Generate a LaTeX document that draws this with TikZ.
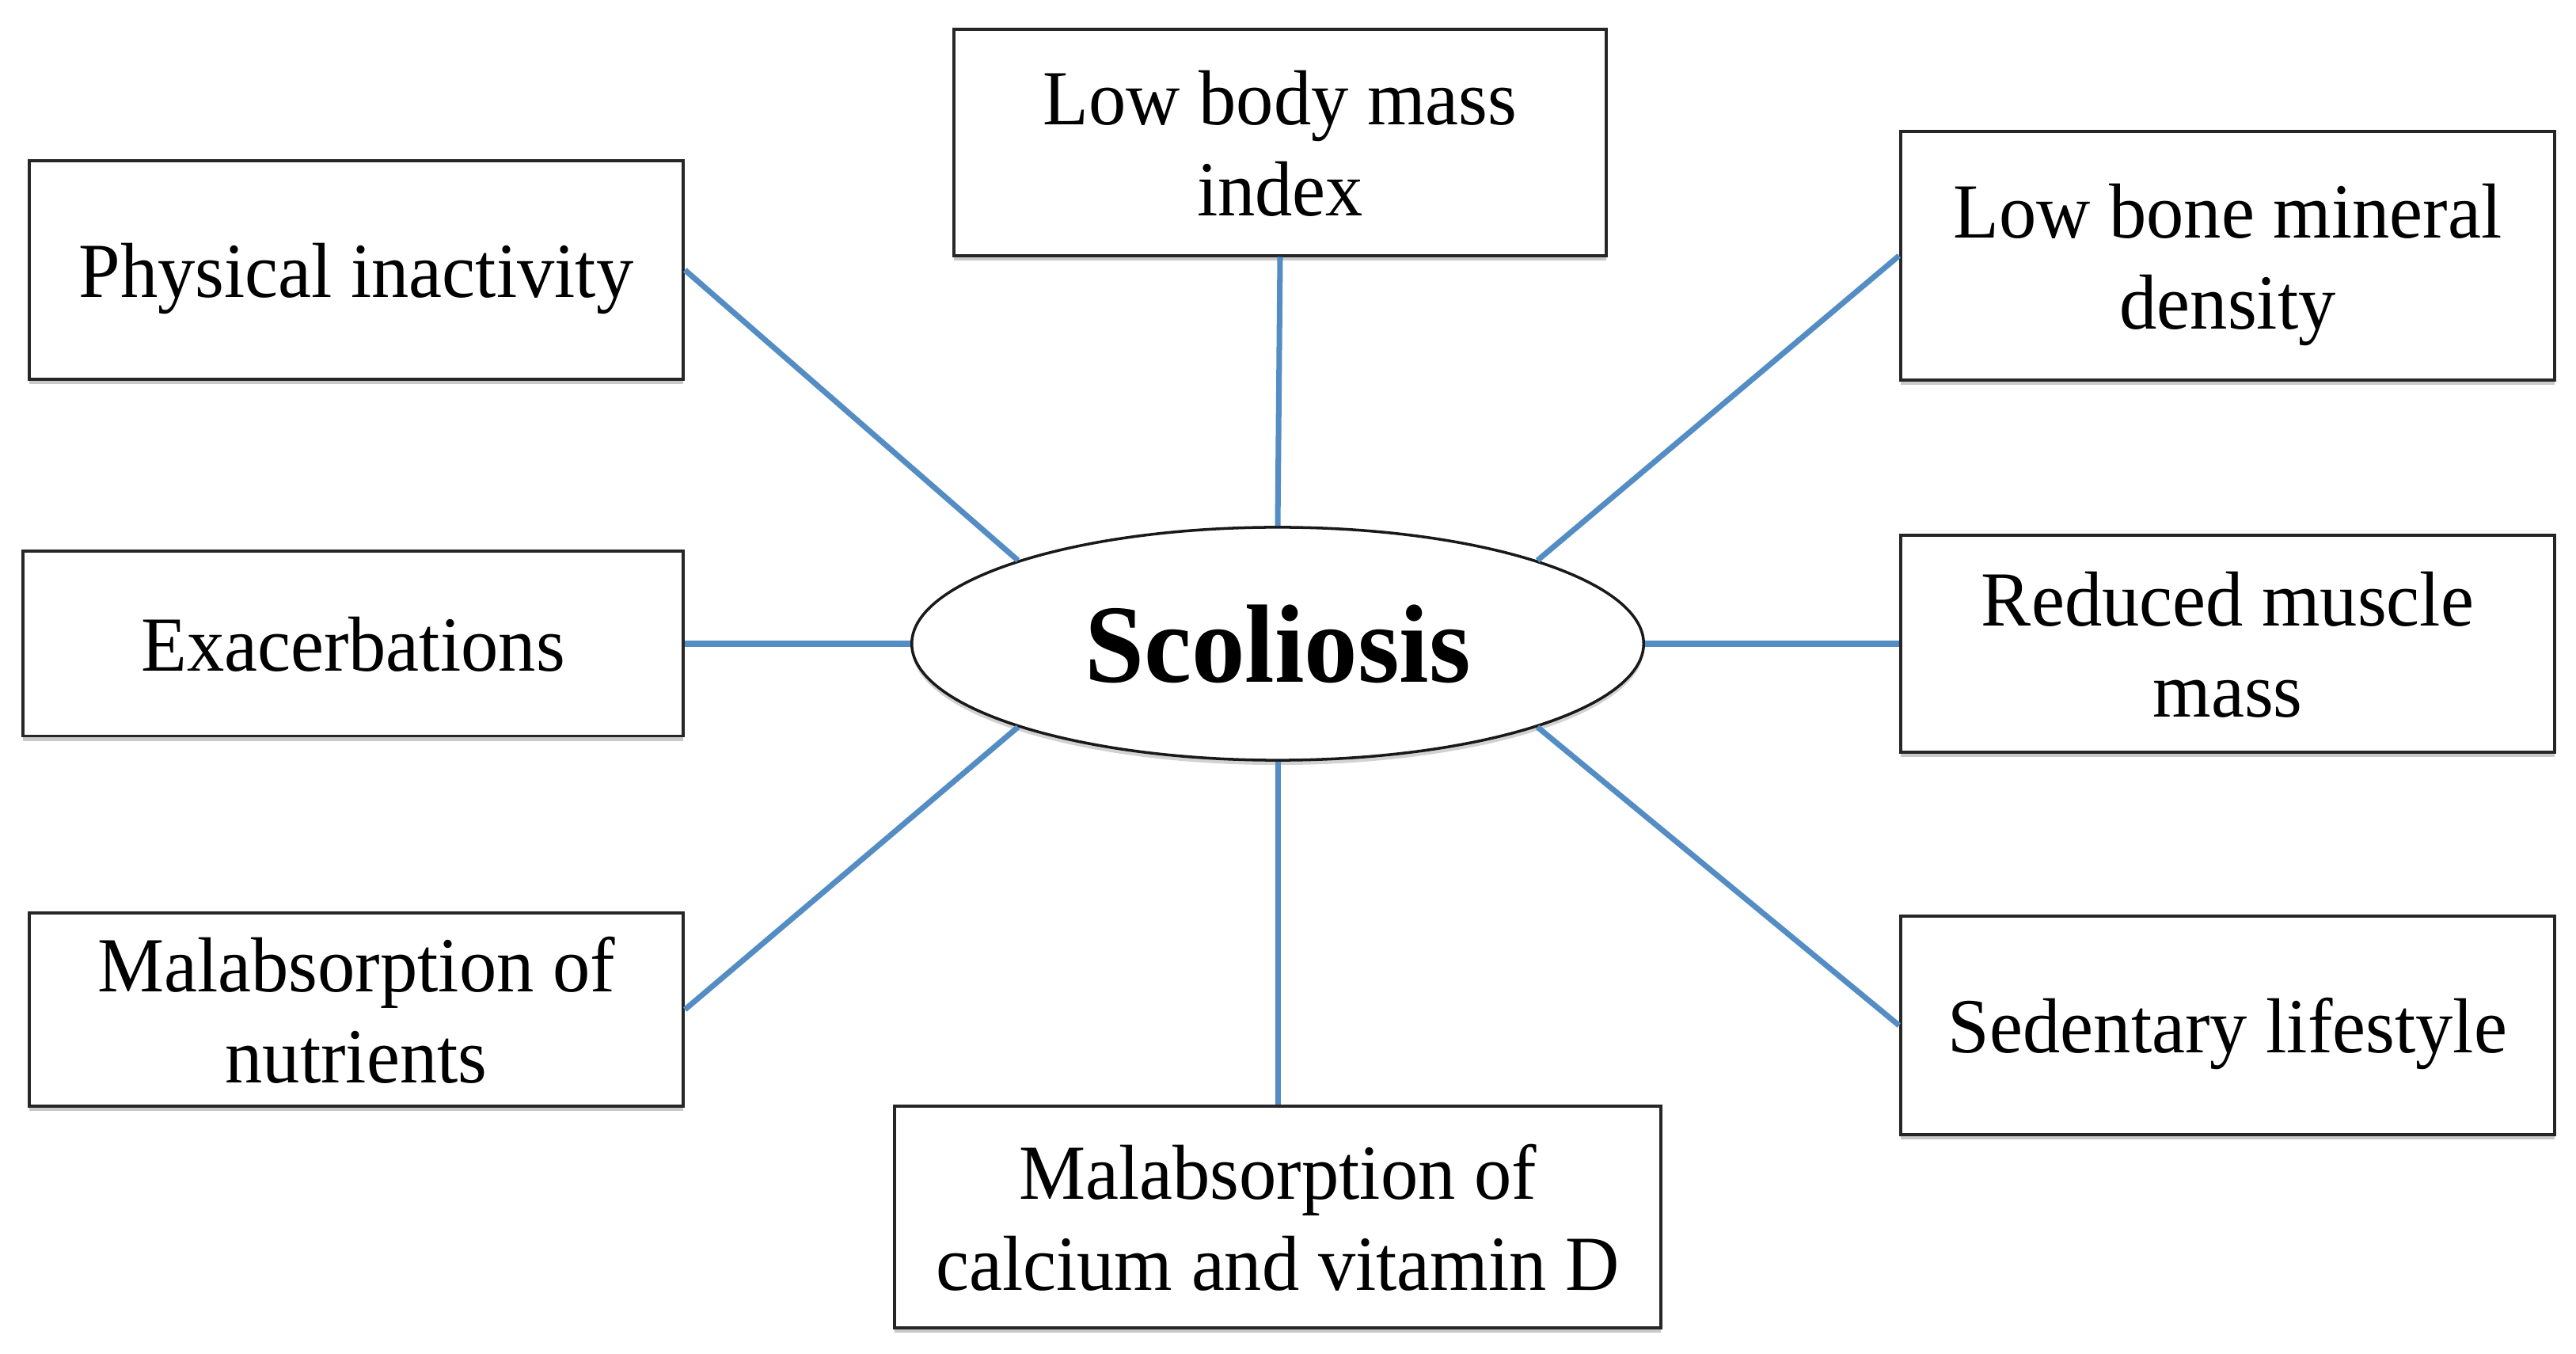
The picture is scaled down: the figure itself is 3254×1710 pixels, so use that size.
\documentclass[tikz,border=0pt]{standalone}
\usepackage{fontspec}
\setmainfont{Liberation Serif}[FakeStretch=0.96]
\usetikzlibrary{shapes.geometric,shadows}
\definecolor{linkblue}{RGB}{84,141,196}
\newcommand\lowtext[1]{\raisebox{-0.12cm}[\height][\depth]{\begin{tabular}{@{}c@{}}#1\end{tabular}}}
\begin{document}
\begin{tikzpicture}[x=0.01cm,y=-0.01cm,
  factor/.style={draw=black!85, line width=1.1pt, fill=white, inner sep=0pt,
    font=\fontsize{28}{32.5}\selectfont,
    drop shadow={shadow xshift=0cm, shadow yshift=-0.06cm, fill=black!35, opacity=0.6}},
  hub/.style={ellipse, draw=black!90, line width=1pt, fill=white, inner sep=0pt,
    font=\fontsize{40}{44}\selectfont\bfseries,
    drop shadow={shadow xshift=0cm, shadow yshift=-0.06cm, fill=black!35, opacity=0.5}},
  link/.style={draw=linkblue, line width=2pt}]
\useasboundingbox[fill=white] (0,0) rectangle (3254,1710);

\node[factor, minimum width=8.23cm, minimum height=2.85cm] (lbmi) at (1617,180) {\lowtext{Low body mass\\index}};
\node[factor, minimum width=8.26cm, minimum height=2.76cm] (phys) at (450,341) {\lowtext{Physical inactivity}};
\node[factor, minimum width=8.26cm, minimum height=3.13cm] (lbmd) at (2814,323) {\lowtext{Low bone mineral\\density}};
\node[factor, minimum width=8.34cm, minimum height=2.33cm] (exac) at (446,813) {\lowtext{Exacerbations}};
\node[factor, minimum width=8.26cm, minimum height=2.74cm] (rmm) at (2814,813) {\lowtext{Reduced muscle\\mass}};
\node[factor, minimum width=8.26cm, minimum height=2.43cm] (mnut) at (450,1275) {\lowtext{Malabsorption of\\nutrients}};
\node[factor, minimum width=8.26cm, minimum height=2.75cm] (sed) at (2814,1295) {\lowtext{Sedentary lifestyle}};
\node[factor, minimum width=9.67cm, minimum height=2.80cm] (calc) at (1614,1537) {\lowtext{Malabsorption of\\calcium and vitamin D}};
\node[hub, minimum width=9.24cm, minimum height=2.94cm] (sc) at (1614,813) {Scoliosis};

\draw[link] (phys.east) -- (sc.north west);
\draw[link] (lbmi.south) -- (sc.north);
\draw[link] (lbmd.west) -- (sc.north east);
\draw[link] (exac.east) -- (sc.west);
\draw[link] (rmm.west) -- (sc.east);
\draw[link] (mnut.east) -- (sc.south west);
\draw[link] (sed.west) -- (sc.south east);
\draw[link] (calc.north) -- (sc.south);
\end{tikzpicture}
\end{document}
